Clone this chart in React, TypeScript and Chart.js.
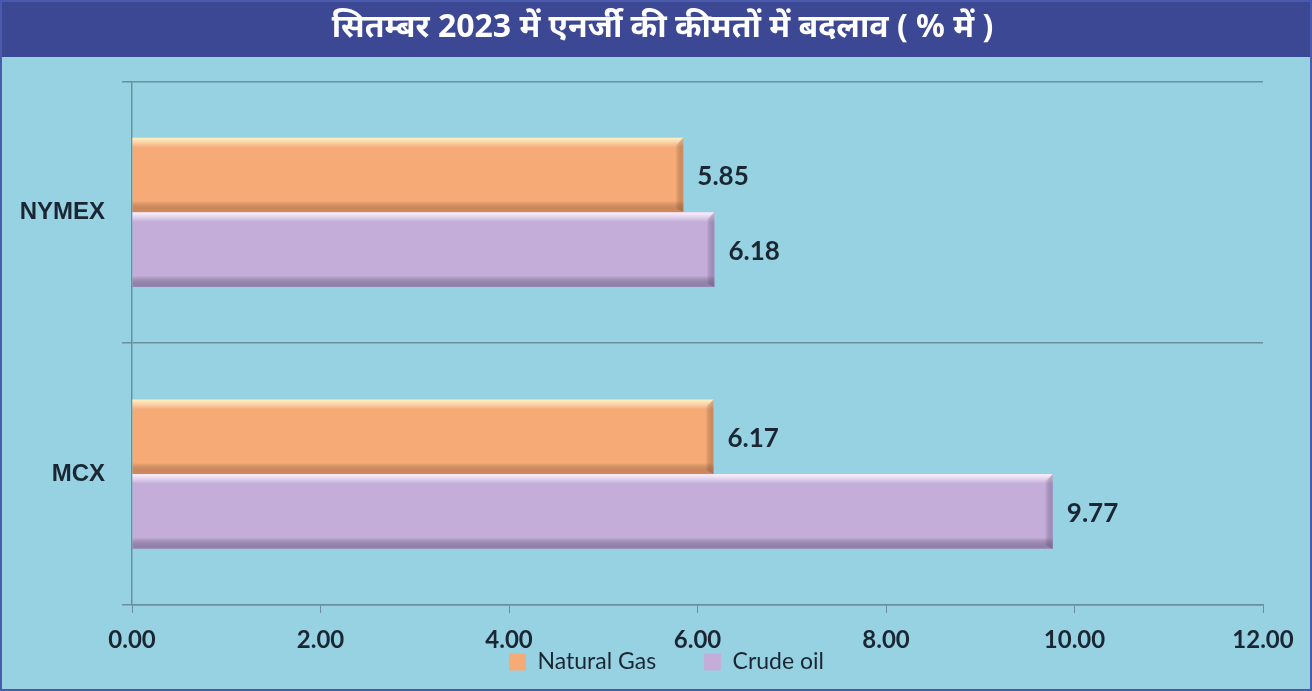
import { useEffect, useRef } from 'react';
import { Chart, registerables } from 'chart.js';

Chart.register(...registerables);

const titleText = 'सितम्बर 2023 में एनर्जी की कीमतों में बदलाव ( % में )';
const categories = ['NYMEX', 'MCX'];
const seriesNames = ['Natural Gas', 'Crude oil'];
const naturalGas = [5.85, 6.17];
const crudeOil = [6.18, 9.77];
const xMin = 0;
const xMax = 12;
const xStep = 2;

const BG = '#97D2E3';
const TITLE_BG = '#3D4895';
const BORDER = '#4A5BAE';
const GRID = '#6B8F9C';
const TEXT = '#1B2633';
const FONT = 'Lato, "Open Sans", "Noto Sans", sans-serif';

const bgPlugin = {
  id: 'bgPlugin',
  beforeDraw(chart: any) {
    const { ctx, width, height } = chart;
    ctx.save();
    ctx.fillStyle = BG;
    ctx.fillRect(0, 0, width, height);
    ctx.fillStyle = TITLE_BG;
    ctx.fillRect(0, 0, width, 57);
    ctx.restore();
  },
  afterDraw(chart: any) {
    const { ctx, width, height } = chart;
    ctx.save();
    ctx.strokeStyle = BORDER;
    ctx.lineWidth = 2;
    ctx.strokeRect(1, 1, width - 2, height - 2);
    ctx.restore();
  },
};

// nudge the legend and title boxes to where the reference places them
const boxNudgePlugin = {
  id: 'boxNudgePlugin',
  afterLayout(chart: any) {
    const lg = chart.legend;
    if (lg) {
      const targetCenter = 662;
      const pad = lg.options.labels.padding;
      const fs = lg.options.labels.font.size;
      const shift = lg.top + pad + fs / 2 - targetCenter;
      lg.top -= shift;
      lg.bottom -= shift;
      lg.left += 35;
      lg.right += 35;
    }
    const tb = chart.titleBlock;
    if (tb) {
      tb.left += 31;
      tb.right += 31;
    }
  },
};

const shades = [
  { top: 'rgba(255,246,190,0.95)', bottom: 'rgba(190,110,70,0.55)', end: 'rgba(170,100,60,0.45)' },
  { top: 'rgba(255,245,255,0.95)', bottom: 'rgba(110,100,150,0.6)', end: 'rgba(120,100,160,0.45)' },
];

const bevelPlugin = {
  id: 'bevelPlugin',
  afterDatasetsDraw(chart: any) {
    const { ctx } = chart;
    ctx.save();
    chart.data.datasets.forEach((ds: any, di: number) => {
      const meta = chart.getDatasetMeta(di);
      meta.data.forEach((el: any) => {
        const x0 = el.base;
        const x1 = el.x;
        const h = el.height;
        const y0 = el.y - h / 2;
        const y1 = el.y + h / 2;
        const s = shades[di];
        const g = ctx.createLinearGradient(0, y0, 0, y1);
        g.addColorStop(0, s.top);
        g.addColorStop(0.13, 'rgba(255,255,255,0.0)');
        g.addColorStop(0.85, 'rgba(0,0,0,0)');
        g.addColorStop(1, s.bottom);
        ctx.fillStyle = g;
        ctx.fillRect(x0, y0, x1 - x0, h);
        const gr = ctx.createLinearGradient(x1 - 8, 0, x1, 0);
        gr.addColorStop(0, 'rgba(0,0,0,0)');
        gr.addColorStop(1, s.end);
        ctx.fillStyle = gr;
        ctx.beginPath();
        ctx.moveTo(x1 - 8, y0 + 8);
        ctx.lineTo(x1, y0);
        ctx.lineTo(x1, y1);
        ctx.lineTo(x1 - 8, y1 - 4);
        ctx.closePath();
        ctx.fill();
      });
    });
    ctx.restore();
  },
};

const valueLabelPlugin = {
  id: 'valueLabelPlugin',
  afterDatasetsDraw(chart: any) {
    const { ctx } = chart;
    ctx.save();
    ctx.font = `bold 26px ${FONT}`;
    ctx.fillStyle = TEXT;
    ctx.textAlign = 'left';
    ctx.textBaseline = 'middle';
    chart.data.datasets.forEach((ds: any, di: number) => {
      const meta = chart.getDatasetMeta(di);
      meta.data.forEach((el: any, i: number) => {
        const v = ds.data[i] as number;
        ctx.fillText(v.toFixed(2), el.x + 14, el.y + 2);
      });
    });
    ctx.restore();
  },
};

export default function App() {
  const canvasRef = useRef<HTMLCanvasElement | null>(null);

  useEffect(() => {
    if (!canvasRef.current) return;
    const chart = new Chart(canvasRef.current, {
      type: 'bar',
      data: {
        labels: categories,
        datasets: [
          {
            label: seriesNames[0],
            data: naturalGas,
            backgroundColor: '#F6AB76',
            borderWidth: 0,
            categoryPercentage: 0.57,
            barPercentage: 1.0,
          },
          {
            label: seriesNames[1],
            data: crudeOil,
            backgroundColor: '#C4ADD9',
            borderWidth: 0,
            categoryPercentage: 0.57,
            barPercentage: 1.0,
          },
        ],
      },
      options: {
        indexAxis: 'y',
        responsive: false,
        animation: false,
        maintainAspectRatio: false,
        layout: { padding: { left: 0, right: 49, top: 0, bottom: -42 } },
        plugins: {
          title: {
            display: true,
            text: titleText,
            color: '#FFFFFF',
            font: { family: '"Noto Sans", "DejaVu Sans", sans-serif', size: 32, weight: 'bold' },
            padding: { top: 9, bottom: 34 },
          },
          legend: {
            display: true,
            position: 'bottom',
            labels: {
              color: TEXT,
              font: { family: FONT, size: 23 },
              boxWidth: 17,
              boxHeight: 17,
              padding: 48,
            },
          },
          tooltip: { enabled: false },
        },
        scales: {
          x: {
            type: 'linear',
            min: xMin,
            max: xMax,
            ticks: {
              stepSize: xStep,
              color: TEXT,
              font: { family: FONT, size: 24, weight: 'bold' },
              padding: 13,
              callback: (v: any) => Number(v).toFixed(2),
            },
            grid: { drawOnChartArea: false, drawTicks: true, tickLength: 8, color: GRID },
            border: { display: true, color: GRID, width: 1.5 },
            afterFit: (scale: any) => {
              scale.height = 47;
            },
          },
          y: {
            type: 'category',
            offset: true,
            ticks: {
              color: TEXT,
              font: { family: '"Liberation Sans", Arial, sans-serif', size: 24, weight: 'bold' },
              padding: 17,
            },
            grid: { offset: true, drawTicks: true, tickLength: 10, color: GRID, lineWidth: 1.5 },
            border: { display: true, color: GRID, width: 1.5 },
            afterFit: (scale: any) => {
              scale.width = 132;
            },
          },
        },
      },
      plugins: [bgPlugin, boxNudgePlugin, bevelPlugin, valueLabelPlugin],
    } as any);
    return () => chart.destroy();
  }, []);

  return (
    <div style={{ position: 'fixed', left: 0, top: 0, width: 1312, height: 691 }}>
      <canvas ref={canvasRef} width={1312} height={691} style={{ display: 'block' }} />
    </div>
  );
}
